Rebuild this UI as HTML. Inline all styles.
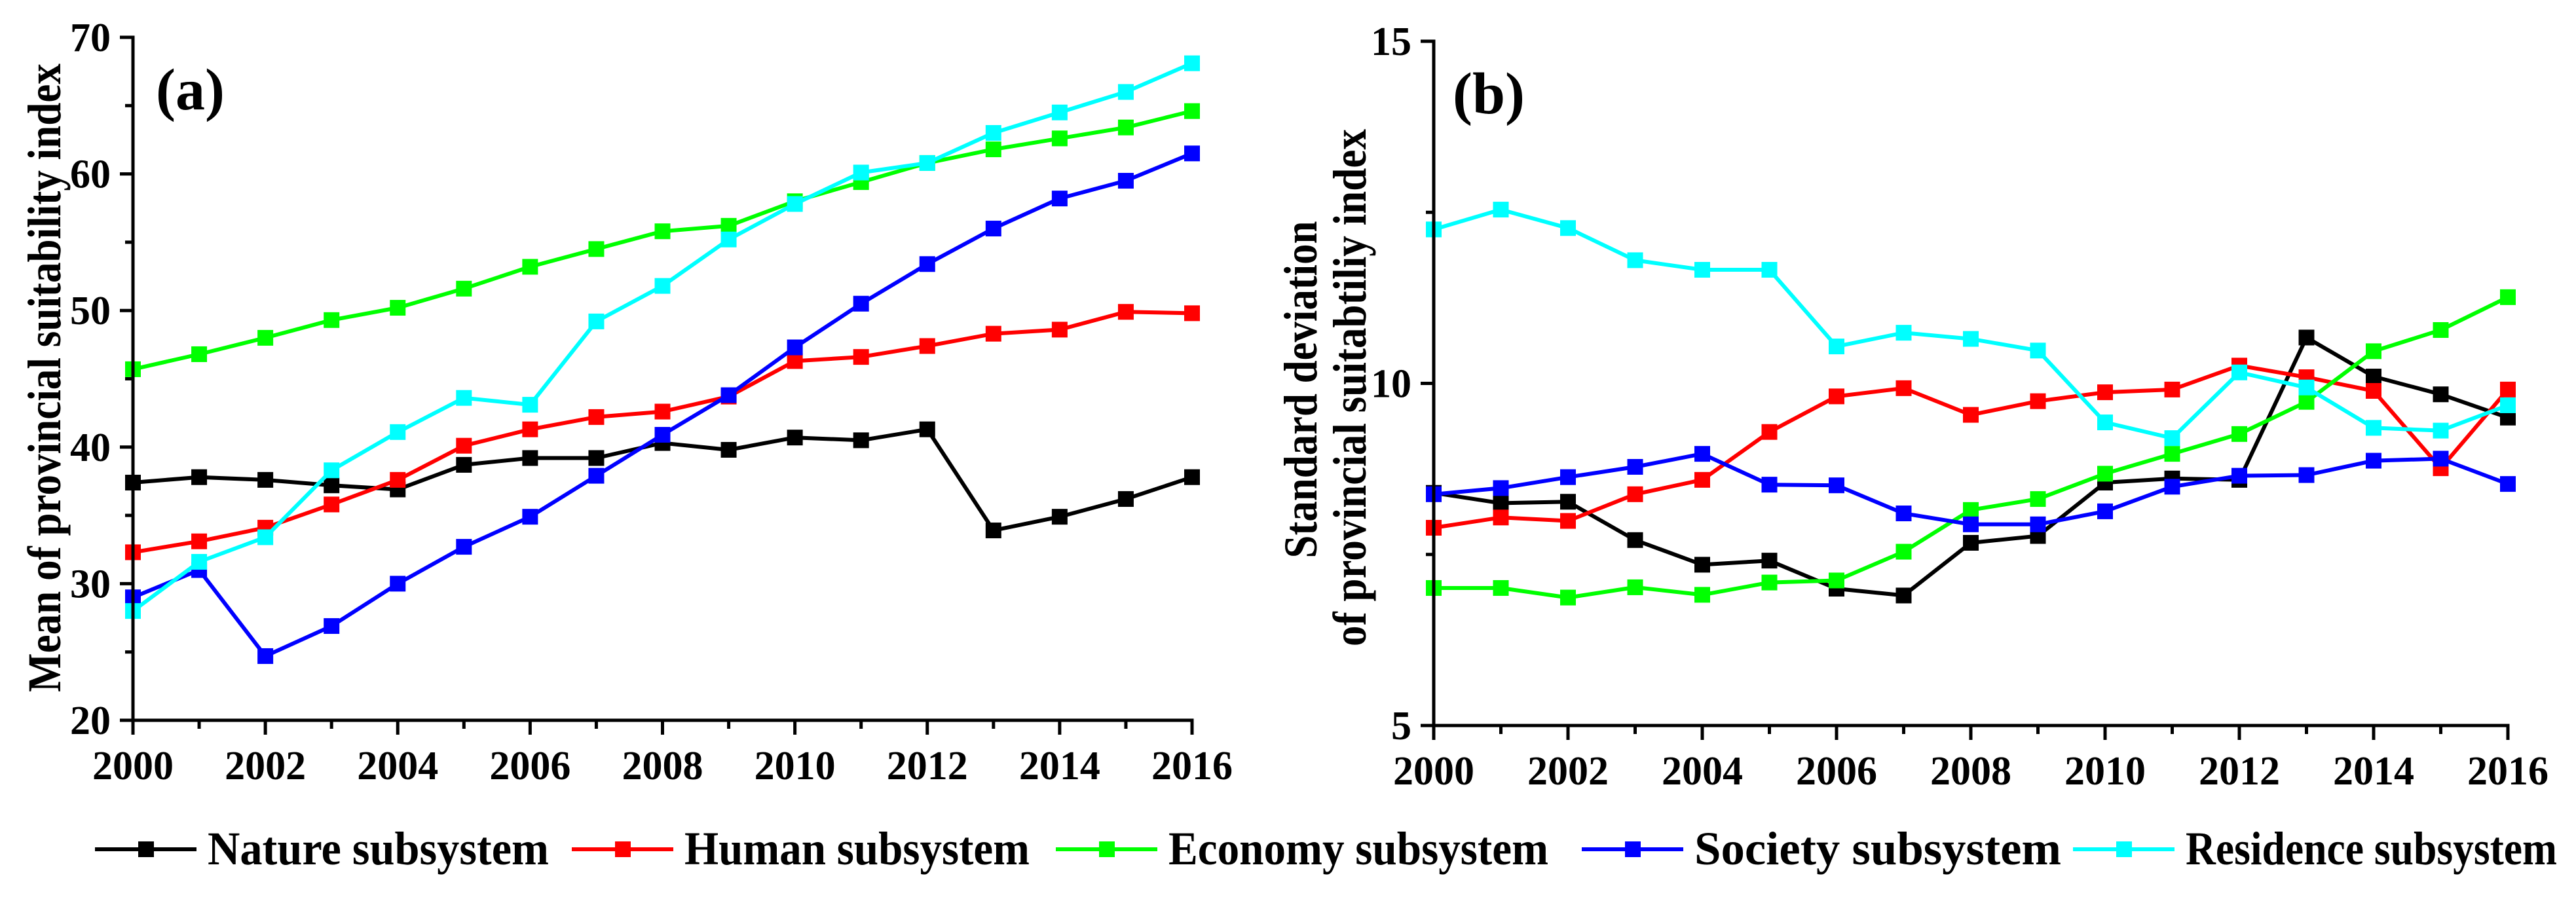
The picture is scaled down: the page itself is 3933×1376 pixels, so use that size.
<!DOCTYPE html>
<html><head><meta charset="utf-8"><style>
html,body{margin:0;padding:0;background:#fff;}
svg{display:block;font-family:"Liberation Serif",serif;font-weight:bold;}
</style></head><body>
<svg id="fig" width="3933" height="1376" viewBox="0 0 3933 1376" xmlns="http://www.w3.org/2000/svg">
<rect width="3933" height="1376" fill="#fff"/>
<g id="legend"></g>
</svg>
<script>
const years = [2000,2001,2002,2003,2004,2005,2006,2007,2008,2009,2010,2011,2012,2013,2014,2015,2016];
const seriesNames = ["Nature subsystem","Human subsystem","Economy subsystem","Society subsystem","Residence subsystem"];
const seriesKeys = ["nature","human","economy","society","residence"];
const seriesColors = ["#000000","#ff0000","#00ff00","#0000ff","#00ffff"];
// Panel (a) mean
const meanNature = [37.4,37.8,37.6,37.2,36.9,38.7,39.2,39.2,40.3,39.8,40.7,40.5,41.3,33.9,34.9,36.2,37.8];
const meanHuman = [32.3,33.1,34.1,35.8,37.6,40.1,41.3,42.2,42.6,43.7,46.3,46.6,47.4,48.3,48.6,49.9,49.8];
const meanEconomy = [45.7,46.8,48.0,49.3,50.2,51.6,53.2,54.5,55.8,56.2,58.0,59.4,60.8,61.8,62.6,63.4,64.6];
const meanSociety = [29.0,31.0,24.7,26.9,30.0,32.7,34.9,37.9,40.9,43.8,47.3,50.5,53.4,56.0,58.2,59.5,61.5];
const meanResidence = [28.0,31.6,33.4,38.3,41.1,43.6,43.1,49.2,51.8,55.2,57.8,60.1,60.8,63.0,64.5,66.0,68.1];
// Panel (b) standard deviation
const sdNature = [8.40,8.25,8.27,7.71,7.35,7.41,7.00,6.90,7.67,7.77,8.55,8.61,8.59,10.67,10.10,9.84,9.50];
const sdHuman = [7.89,8.04,7.99,8.38,8.59,9.29,9.81,9.93,9.54,9.74,9.87,9.91,10.26,10.09,9.89,8.76,9.91];
const sdEconomy = [7.01,7.01,6.87,7.02,6.91,7.09,7.12,7.54,8.15,8.31,8.68,8.97,9.26,9.73,10.47,10.78,11.26];
const sdSociety = [8.38,8.47,8.63,8.78,8.97,8.52,8.51,8.10,7.94,7.94,8.13,8.49,8.65,8.66,8.87,8.90,8.53];
const sdResidence = [12.25,12.54,12.27,11.80,11.66,11.66,10.54,10.74,10.65,10.48,9.43,9.20,10.16,9.94,9.35,9.31,9.68];
const xTickLabels = ["2000","2002","2004","2006","2008","2010","2012","2014","2016"];
const yTicksA = [20,30,40,50,60,70];
const yTicksB = [5,10,15];

const NS = "http://www.w3.org/2000/svg";
const svg = document.getElementById("fig");
function mk(tag, attrs, parent){const e=document.createElementNS(NS,tag);for(const k in attrs)e.setAttribute(k,attrs[k]);(parent||svg).appendChild(e);return e;}

function panel(cfg){
  const g = mk("g",{});
  
  
  const xS = y => cfg.x0 + (y-years[0])/(years[years.length-1]-years[0])*(cfg.x1-cfg.x0);
  const yS = v => cfg.yb + (v-cfg.ymin)/(cfg.ymax-cfg.ymin)*(cfg.yt-cfg.yb);
  cfg.data.forEach((arr,si)=>{
    const sg = mk("g",{},g);
    
    
    const pts = arr.map((v,i)=>xS(years[i]).toFixed(1)+","+yS(v).toFixed(1)).join(" ");
    const pl = mk("polyline",{points:pts,fill:"none",stroke:seriesColors[si],"stroke-width":6,"stroke-linejoin":"round"},sg);
    
    
    arr.forEach((v,i)=>{
      const r = mk("rect",{x:xS(years[i])-12,y:yS(v)-12,width:24,height:24,fill:seriesColors[si]},sg);
      
      
    });
  });
  const ax = mk("g",{stroke:"#000","stroke-width":5,fill:"none"},g);
  
  
  mk("path",{d:`M${cfg.x0},${cfg.yt} V${cfg.yb} H${cfg.x1}`,"stroke-linecap":"square"},ax);
  years.forEach((yr,i)=>{
    const len = (i%2===0)?22:13;
    mk("line",{x1:xS(yr),x2:xS(yr),y1:cfg.yb,y2:cfg.yb+len},ax);
  });
  xTickLabels.forEach(l=>{
    const t = mk("text",{x:xS(+l),y:cfg.yb+90,"text-anchor":"middle","font-size":62,fill:"#000"},g);
    t.textContent=l;
    
    
  });
  cfg.yTicks.forEach((v,i)=>{
    mk("line",{x1:cfg.x0-20,x2:cfg.x0,y1:yS(v),y2:yS(v)},ax);
    if(i<cfg.yTicks.length-1){const m=(v+cfg.yTicks[i+1])/2;mk("line",{x1:cfg.x0-12,x2:cfg.x0,y1:yS(m),y2:yS(m)},ax);}
    const t = mk("text",{x:cfg.x0-34,y:yS(v)+21,"text-anchor":"end","font-size":62,fill:"#000"},g);
    t.textContent=v;
    
    
  });
  const pl = mk("text",{x:cfg.labelX,y:cfg.yt+110,"font-size":90,fill:"#000"},g);
  pl.textContent=cfg.label;
  
  
  cfg.titles.forEach((tt,k)=>{
    const t = mk("text",{x:0,y:0,"text-anchor":"middle","font-size":72,fill:"#000",
      transform:`translate(${tt.x},${tt.y}) rotate(-90)`,textLength:tt.len,lengthAdjust:"spacingAndGlyphs"},g);
    t.textContent=tt.text;
    
    
  });
}

panel({name:"chart-a-mean",prefix:"a",x0:203,x1:1820,yt:57,yb:1100,ymin:20,ymax:70,yTicks:yTicksA,
  data:[meanNature,meanHuman,meanEconomy,meanSociety,meanResidence],label:"(a)",labelX:238,
  titles:[{text:"Mean of provincial suitability index",x:92,y:577,len:960}]});
panel({name:"chart-b-sd",prefix:"b",x0:2189,x1:3829,yt:63,yb:1108,ymin:5,ymax:15,yTicks:yTicksB,
  data:[sdNature,sdHuman,sdEconomy,sdSociety,sdResidence],label:"(b)",labelX:2218,
  titles:[{text:"Standard deviation",x:2010,y:595,len:515},{text:"of provincial suitabtiliy index",x:2085,y:592,len:790}]});

const legend = document.getElementById("legend");
const legX = [145,873,1612,2415,3165];
const legTextW = [521,527,580,560,567];
seriesNames.forEach((n,i)=>{
  const eg = mk("g",{},legend);
  
  
  const ly = 1297;
  mk("line",{x1:legX[i],x2:legX[i]+155,y1:ly,y2:ly,stroke:seriesColors[i],"stroke-width":6},eg);
  mk("rect",{x:legX[i]+66,y:ly-12,width:24,height:24,fill:seriesColors[i]},eg);
  const t = mk("text",{x:legX[i]+172,y:1320,"font-size":72,fill:"#000",textLength:legTextW[i],lengthAdjust:"spacingAndGlyphs"},eg);
  t.textContent=n;
  
  
});
</script>
</body></html>
